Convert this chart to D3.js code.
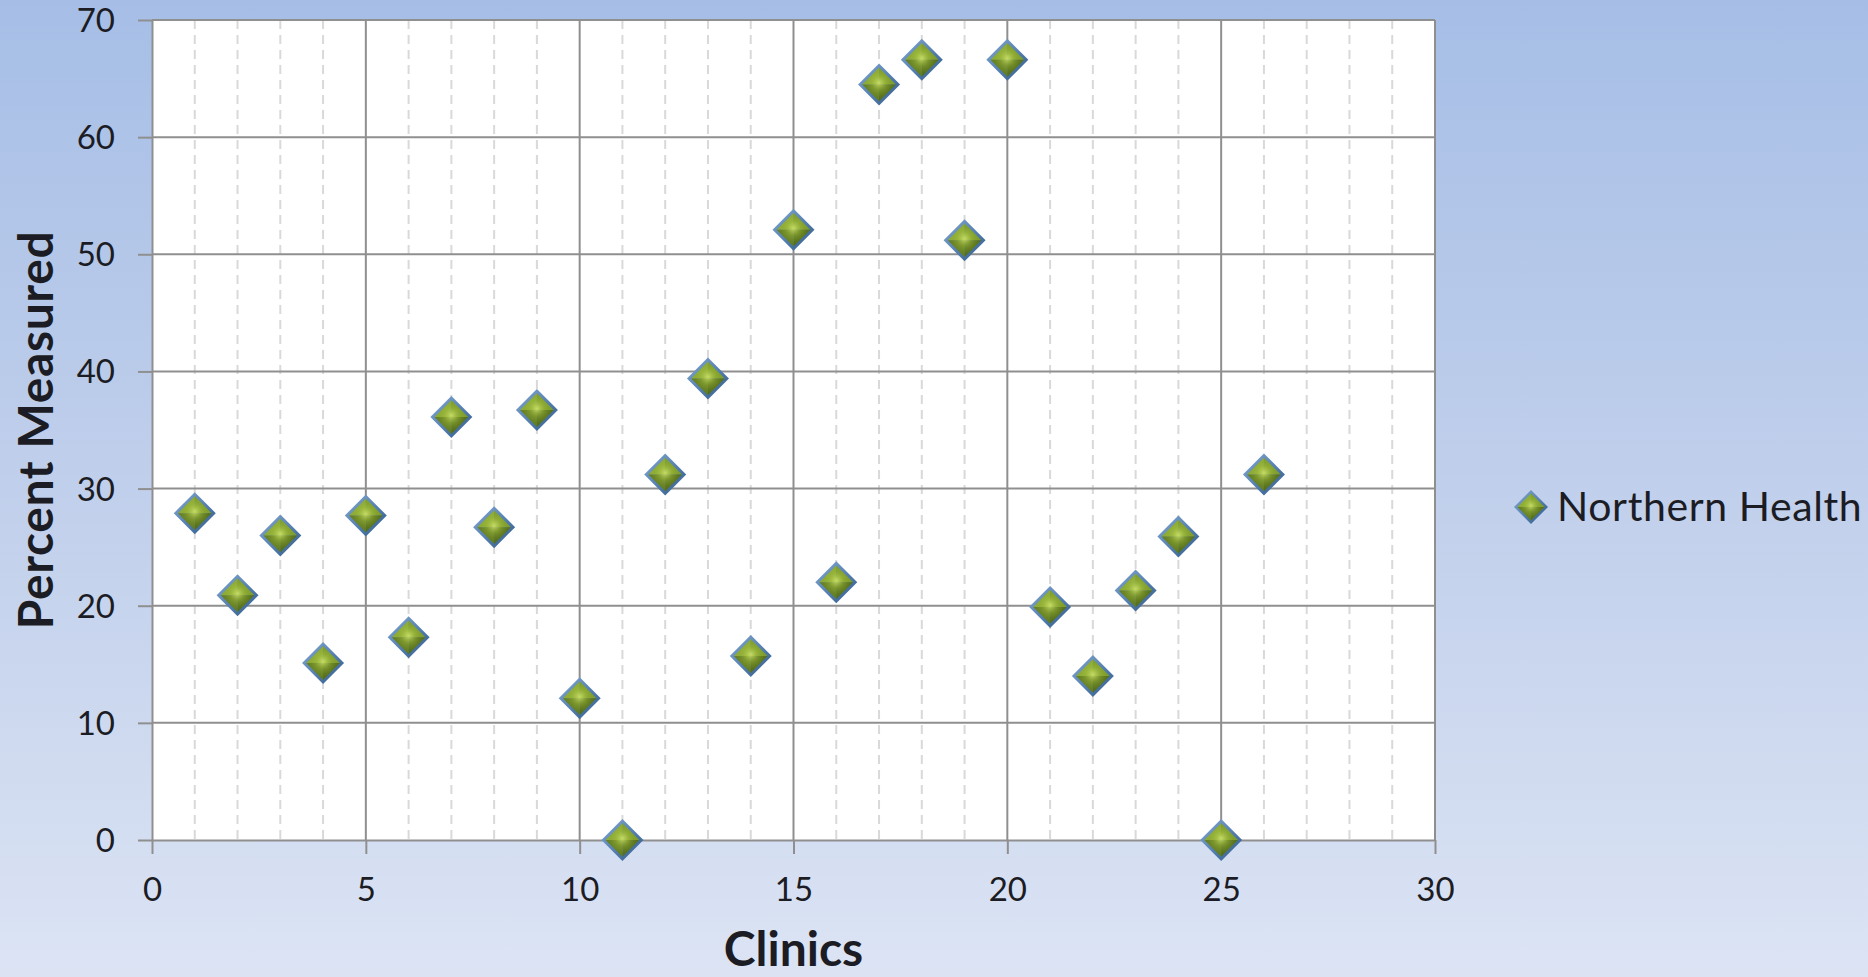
<!DOCTYPE html>
<html>
<head>
<meta charset="utf-8">
<script src="https://cdn.jsdelivr.net/npm/d3@7"></script>
<style>
  html, body { margin: 0; padding: 0; overflow: hidden; }
  svg { display: block; }
  text { font-family: Lato, "Open Sans", sans-serif; fill: #1c1c24; }
</style>
</head>
<body>
<svg id="chart" width="1868" height="977"></svg>
<script>
// ---- data ----
const clinics = [1, 2, 3, 4, 5, 6, 7, 8, 9, 10, 11, 12, 13, 14, 15, 16, 17, 18, 19, 20, 21, 22, 23, 24, 25, 26];
const percentMeasured = [27.9, 20.9, 26.0, 15.1, 27.7, 17.3, 36.1, 26.7, 36.7, 12.1, 0, 31.2, 39.4, 15.7,
                         52.1, 22.0, 64.5, 66.6, 51.2, 66.6, 19.9, 14.0, 21.3, 25.9, 0, 31.2];
const xTickValues = [0, 5, 10, 15, 20, 25, 30];
const yTickValues = [0, 10, 20, 30, 40, 50, 60, 70];
const xMinorValues = d3.range(1, 30).filter(v => v % 5 !== 0);
const seriesName = "Northern Health";
const xTitle = "Clinics";
const yTitle = "Percent Measured";

// ---- layout ----
const W = 1868, H = 977;
const plot = { left: 152, right: 1435, top: 20, bottom: 840 };

const svg = d3.select("#chart");
const defs = svg.append("defs");

// page background gradient
const bg = defs.append("linearGradient").attr("id", "bg").attr("x1", 0).attr("y1", 0).attr("x2", 0).attr("y2", 1);
bg.append("stop").attr("offset", "0%").attr("stop-color", "#a6bee6");
bg.append("stop").attr("offset", "55%").attr("stop-color", "#c3d1ec");
bg.append("stop").attr("offset", "100%").attr("stop-color", "#dce4f4");

// marker rim gradient (steel blue bevel)
const rim = defs.append("linearGradient").attr("id", "rim").attr("x1", 0).attr("y1", 0).attr("x2", 1).attr("y2", 1);
rim.append("stop").attr("offset", "0%").attr("stop-color", "#86a9d2");
rim.append("stop").attr("offset", "50%").attr("stop-color", "#5782b3");
rim.append("stop").attr("offset", "100%").attr("stop-color", "#2f5886");

// center glow
const glow = defs.append("radialGradient").attr("id", "glow").attr("cx", "50%").attr("cy", "45%").attr("r", "50%");
glow.append("stop").attr("offset", "0%").attr("stop-color", "#c9df6a").attr("stop-opacity", 0.95);
glow.append("stop").attr("offset", "45%").attr("stop-color", "#a2bd3f").attr("stop-opacity", 0.45);
glow.append("stop").attr("offset", "100%").attr("stop-color", "#7d9a2a").attr("stop-opacity", 0);

svg.append("rect").attr("width", W).attr("height", H).attr("fill", "url(#bg)");

// ---- scales ----
const x = d3.scaleLinear().domain([0, 30]).range([plot.left, plot.right]);
const y = d3.scaleLinear().domain([0, 70]).range([plot.bottom, plot.top]);

// plot area
svg.append("rect")
  .attr("x", plot.left).attr("y", plot.top)
  .attr("width", plot.right - plot.left).attr("height", plot.bottom - plot.top)
  .attr("fill", "#ffffff");

const gridColor = "#8f8f8f";

// minor vertical gridlines (dashed)
svg.append("g").selectAll("line").data(xMinorValues).join("line")
  .attr("x1", d => x(d)).attr("x2", d => x(d))
  .attr("y1", plot.top).attr("y2", plot.bottom)
  .attr("stroke", "#d9d9d9").attr("stroke-width", 2)
  .attr("stroke-dasharray", "9,6");

// major gridlines
svg.append("g").selectAll("line").data(xTickValues.filter(v => v > 0)).join("line")
  .attr("x1", d => x(d)).attr("x2", d => x(d))
  .attr("y1", plot.top).attr("y2", plot.bottom)
  .attr("stroke", gridColor).attr("stroke-width", 2);
svg.append("g").selectAll("line").data(yTickValues.filter(v => v > 0)).join("line")
  .attr("x1", plot.left).attr("x2", plot.right)
  .attr("y1", d => y(d)).attr("y2", d => y(d))
  .attr("stroke", gridColor).attr("stroke-width", 2);

// ---- axes ----
const yAxis = svg.append("g")
  .attr("transform", `translate(${plot.left},0)`)
  .call(d3.axisLeft(y).tickValues(yTickValues).tickSize(14).tickSizeOuter(0).tickPadding(23));
const xAxis = svg.append("g")
  .attr("transform", `translate(0,${plot.bottom})`)
  .call(d3.axisBottom(x).tickValues(xTickValues).tickSize(14).tickSizeOuter(0).tickPadding(24));

[yAxis, xAxis].forEach(a => {
  a.select(".domain").attr("stroke", gridColor).attr("stroke-width", 2);
  a.selectAll(".tick line").attr("stroke", gridColor).attr("stroke-width", 2);
  a.selectAll(".tick text")
    .attr("fill", "#1c1c24")
    .style("font-family", "Lato, 'Open Sans', sans-serif")
    .style("font-size", "33px");
});
yAxis.selectAll(".tick text").attr("dy", "0.35em");

// axis titles
svg.append("text")
  .attr("x", (plot.left + plot.right) / 2).attr("y", 966)
  .attr("text-anchor", "middle")
  .style("font-size", "48px").style("font-weight", 700)
  .text(xTitle);
svg.append("text")
  .attr("transform", `translate(53,${(plot.top + plot.bottom) / 2}) rotate(-90)`)
  .attr("text-anchor", "middle")
  .style("font-size", "48px").style("font-weight", 700)
  .style("letter-spacing", "0.6px")
  .text(yTitle);

// ---- markers ----
function diamond(g, r) {
  g.append("path")
    .attr("d", `M0,${-r}L${r},0L0,${r}L${-r},0Z`)
    .attr("fill", "url(#rim)");
  const k = r * 0.8;
  const faces = [
    { d: `M0,0L${-k},0L0,${-k}Z`, fill: "#8eac36" }, // upper left
    { d: `M0,0L0,${-k}L${k},0Z`, fill: "#7f9d2c" },  // upper right
    { d: `M0,0L${k},0L0,${k}Z`, fill: "#546d1b" },   // lower right
    { d: `M0,0L0,${k}L${-k},0Z`, fill: "#627c22" }   // lower left
  ];
  faces.forEach(f => g.append("path").attr("d", f.d).attr("fill", f.fill));
  g.append("path")
    .attr("d", `M0,${-k}L${k},0L0,${k}L${-k},0Z`)
    .attr("fill", "url(#glow)");
}

const pts = clinics.map((c, i) => ({ c, v: percentMeasured[i] }));
svg.append("g").selectAll("g").data(pts).join("g")
  .attr("transform", d => `translate(${x(d.c)},${y(d.v)})`)
  .each(function () { diamond(d3.select(this), 21); });

// ---- legend ----
const legend = svg.append("g").attr("transform", "translate(1531,507)");
diamond(legend.append("g"), 17);
legend.append("text")
  .attr("x", 26).attr("y", 14)
  .style("font-size", "41px")
  .style("letter-spacing", "0.6px")
  .text(seriesName);
</script>
</body>
</html>
